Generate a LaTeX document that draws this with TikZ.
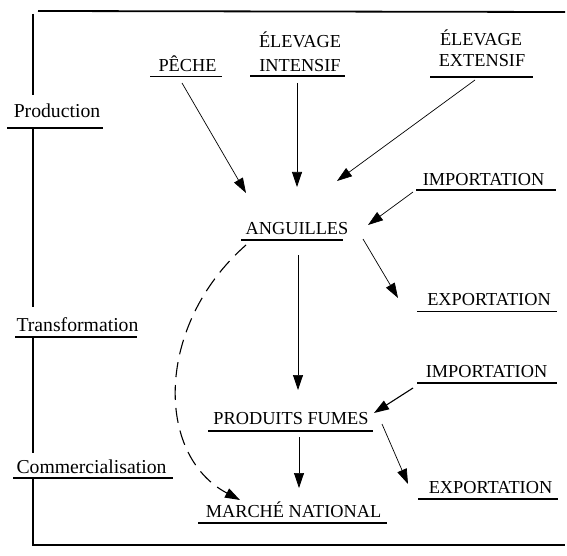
\documentclass[tikz,border=0pt]{standalone}
\usepackage{fontspec}
\setmainfont{Liberation Serif}
\usetikzlibrary{arrows.meta,calc}
\newcommand\undl[4]{\draw[ul] ($(#1.base)+(#2,#4)$) -- ($(#1.base)+(#3,#4)$);}
\begin{document}
\begin{tikzpicture}[x=1pt,y=-1pt,
  captxt/.style={inner sep=0pt, anchor=base, font=\fontsize{18.3}{20}\selectfont},
  sidetxt/.style={inner sep=0pt, anchor=base, font=\fontsize{19.7}{22}\selectfont},
  ul/.style={line width=1.8pt},
  framel/.style={line width=1.8pt},
  arr/.style={line width=0.7pt, -{Triangle[length=15pt,width=10pt]}},
  darr/.style={line width=1.1pt, dash pattern=on 15pt off 8pt, -{Triangle[length=15pt,width=10pt]}},
]
\useasboundingbox (0,0) rectangle (567,556);
% frame
\draw[framel] (38,11) -- (565,12);
\draw[framel] (33,14) -- (33,95);
\draw[framel] (33,128) -- (33,307);
\draw[framel] (33,337) -- (33,453);
\draw[framel] (33,478) -- (33,545) -- (565,545);
% stage labels
\node[sidetxt] (prod) at (57,118) {Production};
\node[sidetxt] (trans) at (77.5,331) {Transformation};
\node[sidetxt] (comm) at (91.5,473) {Commercialisation};
\undl{prod}{-50}{46}{10}
\undl{trans}{-62.5}{59.5}{6}
\undl{comm}{-78.5}{81.5}{5}
% nodes
\node[captxt] (peche) at (187.5,72) {PÊCHE};
\node[captxt] (elevi) at (300,48) {ÉLEVAGE};
\node[captxt] (intens) at (300,72) {INTENSIF};
\node[captxt] (eleve) at (481,46) {ÉLEVAGE};
\node[captxt] (extens) at (482,67) {EXTENSIF};
\node[captxt] (imp1) at (483.5,185.5) {IMPORTATION};
\node[captxt] (ang) at (297,234) {ANGUILLES};
\node[captxt] (exp1) at (489,305) {EXPORTATION};
\node[captxt] (imp2) at (486.5,377) {IMPORTATION};
\node[captxt] (pf) at (291,424) {PRODUITS FUMES};
\node[captxt] (exp2) at (490.5,493) {EXPORTATION};
\node[captxt] (mn) at (293.5,517) {MARCHÉ NATIONAL};
\undl{peche}{-37.5}{34.5}{4.5}
\undl{intens}{-50}{45}{4}
\undl{extens}{-52}{51}{10}
\undl{imp1}{-67.5}{72.5}{4.5}
\undl{ang}{-56}{46}{6}
\undl{exp1}{-72}{68}{6.5}
\undl{imp2}{-69.5}{70.5}{6}
\undl{pf}{-83}{82}{7}
\undl{exp2}{-72.5}{67.5}{6}
\undl{mn}{-95.5}{93.5}{6}
% arrows
\draw[arr] ($(peche.base)+(-5.5,11)$) -- ($(ang.base)+(-51,-41)$);
\draw[arr] ($(intens.base)+(-3,11)$) -- ($(ang.base)+(0,-47)$);
\draw[arr] ($(extens.base)+(-7,13)$) -- ($(ang.base)+(40,-53)$);
\draw[arr] ($(imp1.base)+(-70.5,6.5)$) -- ($(ang.base)+(71,-9)$);
\draw[arr] ($(ang.base)+(66,5)$) -- ($(exp1.base)+(-91,-7)$);
\draw[arr] ($(ang.base)+(1,21)$) -- ($(pf.base)+(7,-34)$);
\draw[arr, line width=1.1pt] ($(imp2.base)+(-73.5,11)$) -- ($(pf.base)+(83,-11)$);
\draw[arr] ($(pf.base)+(91,0)$) -- ($(exp2.base)+(-82.5,-9)$);
\draw[arr] ($(pf.base)+(8,13)$) -- ($(mn.base)+(5.5,-29)$);
\draw[darr] ($(ang.base)+(-51,11)$) .. controls (155,325) and (155,455) .. ($(mn.base)+(-53.5,-17)$);
\end{tikzpicture}
\end{document}
